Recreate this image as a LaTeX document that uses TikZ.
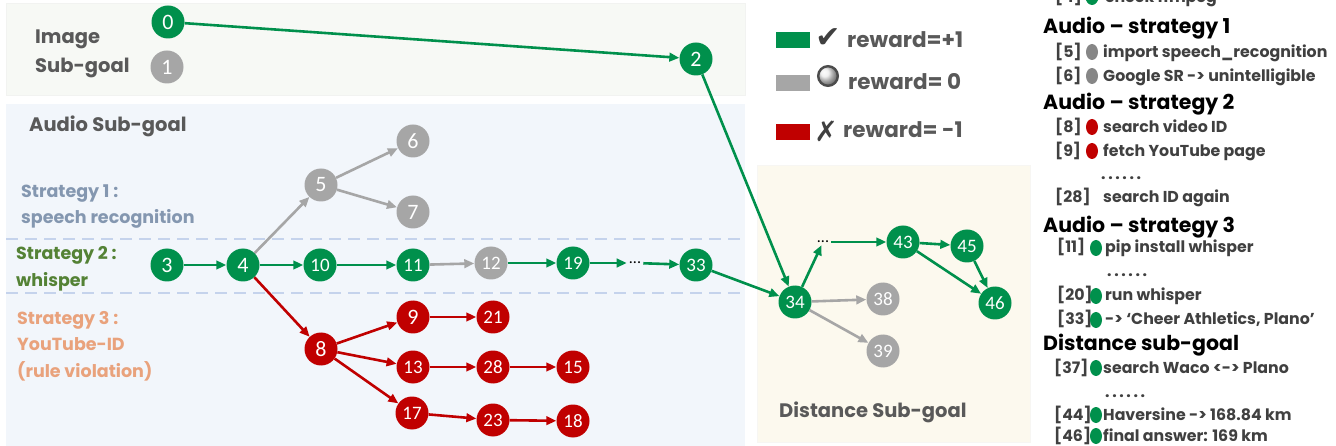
\documentclass[tikz,border=0pt]{standalone}
\usepackage{fontspec}
\usetikzlibrary{arrows.meta,shapes.geometric}
\newfontfamily\pop{Poppins}
\newfontfamily\num{Carlito}
\newfontfamily\sym{DejaVu Sans}
\definecolor{cg}{HTML}{00904C}
\definecolor{cr}{HTML}{C00000}
\definecolor{cgr}{HTML}{A6A6A6}
\definecolor{txt}{HTML}{595959}
\definecolor{item}{HTML}{404040}
\definecolor{imgbg}{HTML}{F7F9F5}
\definecolor{audbg}{HTML}{F2F6FB}
\definecolor{disbg}{HTML}{FCF9EE}
\definecolor{dashc}{HTML}{C5D3EC}
\definecolor{s1c}{HTML}{8497B0}
\definecolor{s2c}{HTML}{548235}
\definecolor{s3c}{HTML}{E9A27C}
\newcommand{\sixdots}{.\,.\,.\,.\,.\,.}
\tikzset{
  nd/.style={circle,minimum size=33pt,inner sep=0pt,text=white,font=\num\fontsize{22}{22}\selectfont},
  two/.style={font=\num\fontsize{19}{19}\selectfont},
  ng/.style={nd,fill=cg},
  nr/.style={nd,fill=cr},
  ny/.style={nd,fill=cgr},
  dots/.style={inner sep=2pt,font=\num\fontsize{16}{16}\selectfont},
  edge/.style={line width=2.6pt,-{Triangle[length=10pt,width=8.5pt]}},
  eg/.style={edge,draw=cg},
  er/.style={edge,draw=cr},
  ey/.style={edge,draw=cgr},
  ttl/.style={anchor=base west,inner sep=0pt,font=\pop\bfseries\fontsize{19.5}{19.5}\selectfont},
  lab/.style={anchor=base west,inner sep=0pt,font=\pop\bfseries\fontsize{17.5}{17.5}\selectfont},
  hd/.style={anchor=base west,inner sep=0pt,text=black,font=\pop\bfseries\fontsize{20.5}{20.5}\selectfont},
  it/.style={anchor=base west,inner sep=0pt,text=item,font=\pop\bfseries\fontsize{15.8}{15.8}\selectfont},
  bul/.style={ellipse,minimum width=12pt,minimum height=16pt,inner sep=0pt},
  leg/.style={anchor=base west,inner sep=0pt,text=txt,font=\pop\bfseries\fontsize{21.5}{21.5}\selectfont}
}
\begin{document}
\begin{tikzpicture}[x=1pt,y=-1pt]
\useasboundingbox (0,0) rectangle (1336,446);
% backgrounds
\fill[imgbg,draw=imgbg!90!black!40] (6,3) rectangle (745,95);
\fill[audbg] (6,104) rectangle (745,446);
\fill[disbg,draw=disbg!90!black!30] (757,165) rectangle (1030,442);
\draw[dashc,line width=1.5pt,dash pattern=on 12pt off 7pt] (6,239) -- (745,239);
\draw[dashc,line width=1.5pt,dash pattern=on 12pt off 7pt] (6,293) -- (745,293);
% labels
\node[ttl,text=txt] (limg) at (35,44) {Image};
\node[ttl,text=txt] (lsub) at (35,73) {Sub-goal};
\node[ttl,text=txt] (laud) at (29,132) {Audio Sub-goal};
\node[lab,text=s1c] (ls1a) at (21,198) {Strategy 1 :};
\node[lab,text=s1c] (ls1b) at (21,224) {speech recognition};
\node[lab,text=s2c] (ls2a) at (16,260) {Strategy 2 :};
\node[lab,text=s2c] (ls2b) at (16,287) {whisper};
\node[lab,text=s3c] (ls3a) at (17,324) {Strategy 3 :};
\node[lab,text=s3c] (ls3b) at (17,351) {YouTube-ID};
\node[lab,text=s3c] (ls3c) at (17,377) {(rule violation)};
\node[ttl,text=txt] (ldis) at (779,417) {Distance Sub-goal};
% nodes
\node[ng] (n0) at (168,22) {0};
\node[ny] (n1) at (167,67) {1};
\node[ng] (n2) at (696,59) {2};
\node[ng] (n3) at (167,265) {3};
\node[ng] (n4) at (243,265) {4};
\node[ng,two] (n10) at (320,265) {10};
\node[ng,two] (n11) at (413,265) {11};
\node[ny,two] (n12) at (491,263) {12};
\node[ng,two] (n19) at (573,263) {19};
\node[dots] (dA) at (635,263) {...};
\node[ng,two] (n33) at (696,265) {33};
\node[ny] (n5) at (321,185) {5};
\node[ny] (n6) at (413,141) {6};
\node[ny] (n7) at (413,212) {7};
\node[nr] (n8) at (321,349) {8};
\node[nr] (n9) at (413,317) {9};
\node[nr,two] (n13) at (413,367) {13};
\node[nr,two] (n17) at (412,413) {17};
\node[nr,two] (n21) at (493,317) {21};
\node[nr,two] (n28) at (493,367) {28};
\node[nr,two] (n15) at (573,367) {15};
\node[nr,two] (n23) at (493,420) {23};
\node[nr,two] (n18) at (573,421) {18};
\node[ng,two] (n34) at (795,302) {34};
\node[dots] (dB) at (823,242) {...};
\node[ng,two] (n43) at (903,242) {43};
\node[ng,two] (n45) at (967,246) {45};
\node[ng,two] (n46) at (995,303) {46};
\node[ny,two] (n38) at (883,299) {38};
\node[ny,two] (n39) at (883,351) {39};
% edges
\draw[eg] (n0) -- (n2);
\draw[eg] (n2) -- (n34);
\draw[eg] (n3) -- (n4);
\draw[eg] (n4) -- (n10);
\draw[eg] (n10) -- (n11);
\draw[ey] (n11) -- (n12);
\draw[eg] (n12) -- (n19);
\draw[eg] (n19) -- (dA);
\draw[eg] (dA) -- (n33);
\draw[eg] (n33) -- (n34);
\draw[ey] (n4) -- (n5);
\draw[ey] (n5) -- (n6);
\draw[ey] (n5) -- (n7);
\draw[er] (n4) -- (n8);
\draw[er] (n8) -- (n9);
\draw[er] (n8) -- (n13);
\draw[er] (n8) -- (n17);
\draw[er] (n9) -- (n21);
\draw[er] (n13) -- (n28);
\draw[er] (n28) -- (n15);
\draw[er] (n17) -- (n23);
\draw[er] (n23) -- (n18);
\draw[eg] (n34) -- (dB);
\draw[eg] (dB) -- (n43);
\draw[eg] (n43) -- (n45);
\draw[eg] (n45) -- (n46);
\draw[eg] (n43) -- (n46);
\draw[ey] (n34) -- (n38);
\draw[ey] (n34) -- (n39);
% legend
\fill[cg] (776,32) rectangle (810,48);
\fill[cgr] (776,75) rectangle (810,91);
\fill[cr] (776,124) rectangle (810,140);
\node[inner sep=0pt,text=item,font=\sym\bfseries\fontsize{30}{30}\selectfont] (ick) at (828,38) {✔};
\shade[ball color=white!85!gray] (828,76) circle (10.5pt);
\draw[gray!60!black,line width=2.4pt] (828,76) circle (9.8pt);
\node[inner sep=0pt,text=item,font=\sym\fontsize{28}{28}\selectfont] (ix) at (826,131) {✗};
\node[leg] (r1) at (847,48) {reward=+1};
\node[leg] (r0) at (848,90) {reward= 0};
\node[leg] (rm) at (843,138) {reward= -1};
% right text block
\node[it] (t4) at (1055,3) {[4]\hspace{23pt}check ffmpeg};
\fill[cg] (1092,-3) ellipse (6.5pt and 8pt);
\node[hd] (h1) at (1043,34) {Audio – strategy 1};
\node[it] (t5) at (1055,58) {[5]};
\node[it] (t5b) at (1103,58) {import speech\_recognition};
\node[it] (t6) at (1055,82) {[6]};
\node[it] (t6b) at (1103,82) {Google SR -> unintelligible};
\node[hd] (h2) at (1043,110) {Audio – strategy 2};
\node[it] (t8) at (1055,133) {[8]};
\node[it] (t8b) at (1103,133) {search video ID};
\node[it] (t9) at (1055,157) {[9]};
\node[it] (t9b) at (1103,157) {fetch YouTube page};
\node[it] (e1) at (1101,180) {\sixdots};
\node[it] (t28) at (1055,203) {[28]};
\node[it] (t28b) at (1103,203) {search ID again};
\node[hd] (h3) at (1043,233) {Audio – strategy 3};
\node[it] (t11) at (1057,253) {[11]};
\node[it] (t11b) at (1105,253) {pip install whisper};
\node[it] (e2) at (1107,277) {\sixdots};
\node[it] (t20) at (1057,301) {[20]};
\node[it] (t20b) at (1105,301) {run whisper};
\node[it] (t33) at (1057,325) {[33]};
\node[it] (t33b) at (1105,325) {-> ‘Cheer Athletics, Plano’};
\node[hd] (h4) at (1043,351) {Distance sub-goal};
\node[it] (t37) at (1054,373) {[37]};
\node[it] (t37b) at (1103,373) {search Waco <-> Plano};
\node[it] (e3) at (1105,397) {\sixdots};
\node[it] (t44) at (1054,420) {[44]};
\node[it] (t44b) at (1103,420) {Haversine -> 168.84 km};
\node[it] (t46) at (1054,441) {[46]};
\node[it] (t46b) at (1103,441) {final answer: 169 km};
% bullets
\node[bul,fill=gray!95] (b5) at (1092,52) {};
\node[bul,fill=gray!95] (b6) at (1092,76) {};
\node[bul,fill=cr] (b8) at (1092,127) {};
\node[bul,fill=cr] (b9) at (1092,151) {};
\node[bul,fill=cg] (b11) at (1096,248) {};
\node[bul,fill=cg] (b20) at (1096,296) {};
\node[bul,fill=cg] (b33) at (1096,320) {};
\node[bul,fill=cg] (b37) at (1096,368) {};
\node[bul,fill=cg] (b44) at (1096,415) {};
\node[bul,fill=cg] (b46) at (1096,436) {};
\end{tikzpicture}
\end{document}
